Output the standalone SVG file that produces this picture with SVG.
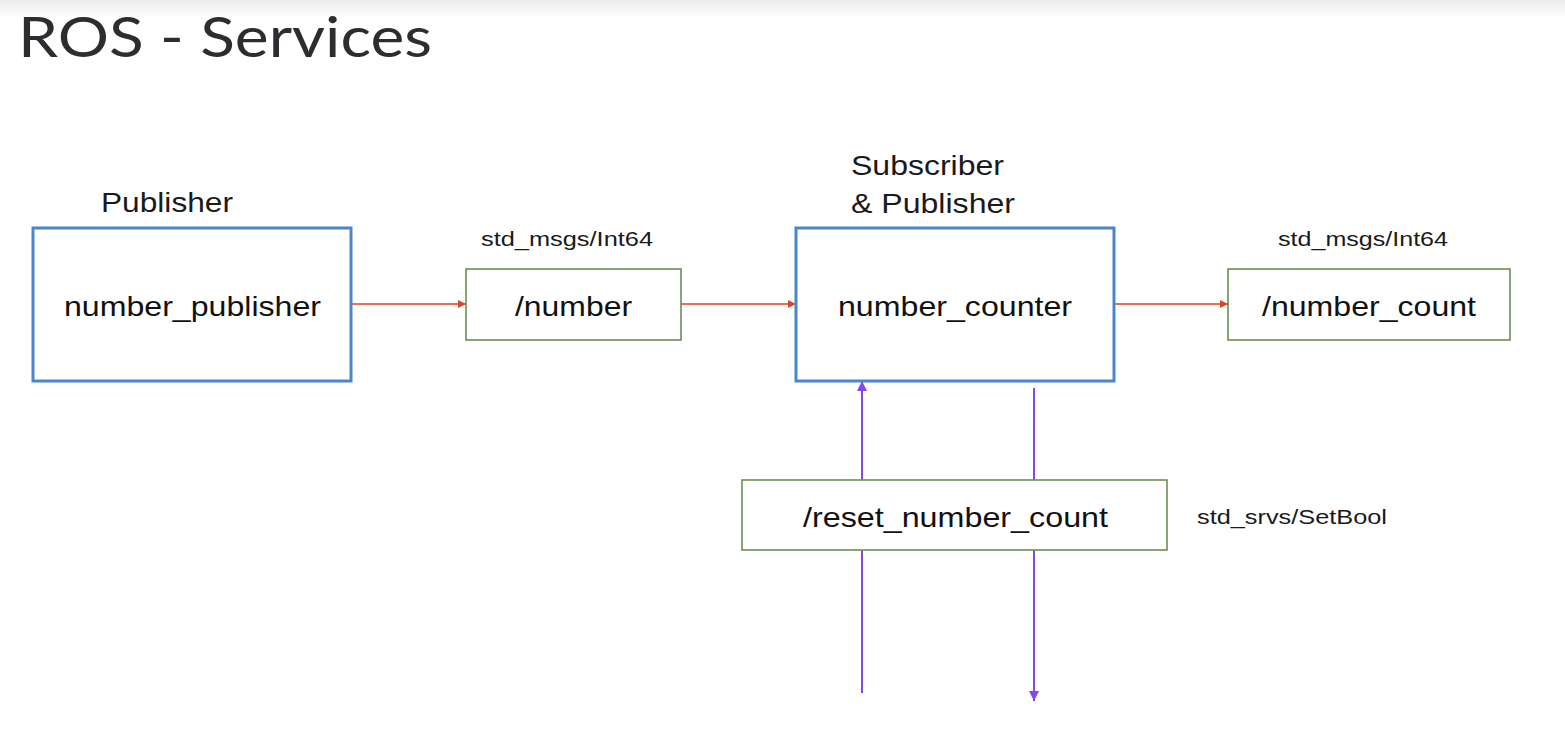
<svg xmlns="http://www.w3.org/2000/svg" width="1565" height="744" viewBox="0 0 1565 744">
<defs>
<linearGradient id="topband" x1="0" y1="0" x2="0" y2="1">
<stop offset="0" stop-color="#ececec"/>
<stop offset="1" stop-color="#ffffff"/>
</linearGradient>
<marker id="arrRed" viewBox="0 0 10 10" refX="10" refY="5" markerWidth="8" markerHeight="8" markerUnits="userSpaceOnUse" orient="auto">
<path d="M0,0 L10,5 L0,10 z" fill="#dc4426"/>
</marker>
<marker id="arrPurple" viewBox="0 0 10 10" refX="10" refY="5" markerWidth="10" markerHeight="10" markerUnits="userSpaceOnUse" orient="auto">
<path d="M0,0 L10,5 L0,10 z" fill="#8446ee"/>
</marker>
</defs>
<style>
.node{fill:#ffffff;stroke:#4a86c8;stroke-width:3}
.topic{fill:#ffffff;stroke:#6f8c55;stroke-width:1.6}
.t{font-family:"Liberation Sans",Arial,sans-serif;fill:#111111}
.big{font-size:28px}
.lbl{font-size:28px;fill:#1a1a1a}
.small{font-size:21px;fill:#1a1a1a}
.red{stroke:#dc4426;stroke-width:1.6;fill:none}
.pur{stroke:#8446ee;stroke-width:2;fill:none}
</style>
<rect x="0" y="0" width="1565" height="744" fill="#ffffff"/>
<rect x="0" y="0" width="1565" height="18" fill="url(#topband)"/>
<text x="18" y="57" font-family="Lato,'Open Sans',sans-serif" font-size="57" fill="#2b2d30" textLength="414" lengthAdjust="spacingAndGlyphs">ROS - Services</text>

<g id="connectors">
<line class="red" x1="351" y1="304" x2="466" y2="304" marker-end="url(#arrRed)"/>
<line class="red" x1="681" y1="304" x2="796" y2="304" marker-end="url(#arrRed)"/>
<line class="red" x1="1114" y1="304" x2="1228" y2="304" marker-end="url(#arrRed)"/>
<line class="pur" x1="862" y1="693" x2="862" y2="381" marker-end="url(#arrPurple)"/>
<line class="pur" x1="1034" y1="388" x2="1034" y2="701" marker-end="url(#arrPurple)"/>
</g>

<g id="number_publisher">
<text class="t lbl" x="101" y="212" textLength="132" lengthAdjust="spacingAndGlyphs">Publisher</text>
<rect class="node" x="33" y="228" width="318" height="153"/>
<text class="t big" x="64" y="316" textLength="257" lengthAdjust="spacingAndGlyphs">number_publisher</text>
</g>

<g id="topic_number">
<text class="t small" x="481" y="246" textLength="172" lengthAdjust="spacingAndGlyphs">std_msgs/Int64</text>
<rect class="topic" x="466" y="269" width="215" height="71"/>
<text class="t big" x="515" y="316" textLength="117" lengthAdjust="spacingAndGlyphs">/number</text>
</g>

<g id="number_counter">
<text class="t lbl" x="851" y="175" textLength="153" lengthAdjust="spacingAndGlyphs">Subscriber</text>
<text class="t lbl" x="851" y="213" textLength="164" lengthAdjust="spacingAndGlyphs">&amp; Publisher</text>
<rect class="node" x="796" y="228" width="318" height="153"/>
<text class="t big" x="838" y="316" textLength="234" lengthAdjust="spacingAndGlyphs">number_counter</text>
</g>

<g id="topic_number_count">
<text class="t small" x="1278" y="246" textLength="170" lengthAdjust="spacingAndGlyphs">std_msgs/Int64</text>
<rect class="topic" x="1228" y="269" width="282" height="71"/>
<text class="t big" x="1262" y="316" textLength="214" lengthAdjust="spacingAndGlyphs">/number_count</text>
</g>

<g id="service_reset_number_count">
<rect class="topic" x="742" y="480" width="425" height="70"/>
<text class="t big" x="803" y="527" textLength="305" lengthAdjust="spacingAndGlyphs">/reset_number_count</text>
<text class="t small" x="1197" y="524" textLength="190" lengthAdjust="spacingAndGlyphs">std_srvs/SetBool</text>
</g>
</svg>
